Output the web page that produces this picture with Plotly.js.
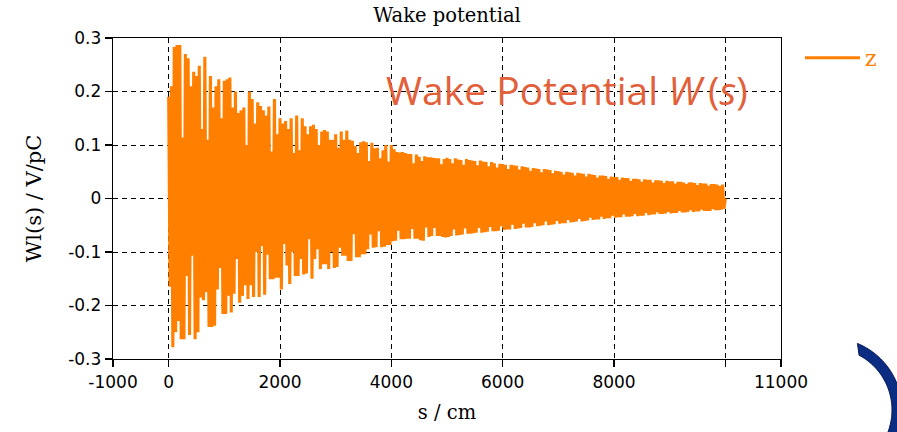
<!DOCTYPE html>
<html><head><meta charset="utf-8">
<script src="https://cdn.plot.ly/plotly-3.0.1.min.js"></script>
<style>html,body{margin:0;padding:0;background:#fff;}#chart{width:897px;height:432px;}</style>
</head><body><div id="chart"></div>
<script>
// ---- data ----
const seriesName = 'z';
const sStep = 50;      // cm between successive positive peaks (troughs lie half-way)
const sEnd = 10000;    // cm, end of the computed wake
// positive peaks of W(s) [V/pC], s = 0 .. 9950 cm
const upperA = [0.19,0.21,0.283,0.287,0.287,0.114,0.27,0.262,0.21,0.237,
  0.229,0.248,0.13,0.265,0.11,0.229,0.17,0.21,0.223,0.15,
  0.22,0.223,0.226,0.17,0.2,0.16,0.165,0.17,0.1,0.2,
  0.186,0.14,0.18,0.173,0.165,0.155,0.172,0.088,0.186,0.12,
  0.15,0.14,0.145,0.13,0.15,0.085,0.155,0.09,0.15,0.135];
const upperB = [0.12,0.135,0.138,0.13,0.1,0.125,0.128,0.125,0.11,0.11,
  0.12,0.095,0.125,0.11,0.127,0.11,0.108,0.098,0.085,0.105,
  0.107,0.105,0.07,0.104,0.094,0.095,0.075,0.09,0.1,0.069,
  0.1,0.092,0.087,0.086,0.087,0.085,0.083,0.083,0.066,0.082,
  0.078,0.07,0.079,0.077,0.077,0.076,0.075,0.075,0.064,0.074];
const upperC = [0.076,0.074,0.066,0.075,0.073,0.072,0.063,0.074,0.072,0.071,
  0.07,0.062,0.071,0.069,0.068,0.06,0.068,0.066,0.058,0.065,
  0.064,0.063,0.055,0.063,0.062,0.061,0.054,0.06,0.059,0.058,
  0.052,0.057,0.056,0.055,0.049,0.055,0.054,0.053,0.047,0.052,
  0.051,0.05,0.045,0.05,0.049,0.048,0.043,0.048,0.047,0.046];
const upperD = [0.041,0.046,0.045,0.044,0.039,0.043,0.043,0.042,0.037,0.041,
  0.04,0.04,0.035,0.039,0.038,0.038,0.033,0.037,0.037,0.036,
  0.031,0.036,0.035,0.035,0.03,0.034,0.034,0.033,0.029,0.033,
  0.032,0.032,0.028,0.031,0.031,0.03,0.027,0.03,0.03,0.029,
  0.025,0.029,0.028,0.028,0.024,0.027,0.027,0.026,0.023,0.026];
// negative peaks of W(s) [V/pC], s = 25 .. 9975 cm
const lowerA = [-0.165,-0.278,-0.25,-0.229,-0.263,-0.263,-0.145,-0.255,-0.107,-0.263,
  -0.25,-0.185,-0.19,-0.175,-0.24,-0.24,-0.238,-0.17,-0.13,-0.216,
  -0.216,-0.182,-0.213,-0.178,-0.113,-0.195,-0.182,-0.162,-0.188,-0.162,
  -0.184,-0.1,-0.184,-0.089,-0.18,-0.105,-0.151,-0.151,-0.148,-0.148,
  -0.17,-0.085,-0.125,-0.16,-0.1,-0.145,-0.145,-0.113,-0.142,-0.14];
const lowerB = [-0.076,-0.15,-0.113,-0.095,-0.132,-0.123,-0.123,-0.132,-0.1,-0.13,
  -0.128,-0.092,-0.107,-0.107,-0.117,-0.117,-0.067,-0.11,-0.11,-0.104,
  -0.104,-0.095,-0.067,-0.092,-0.091,-0.061,-0.091,-0.09,-0.087,-0.087,
  -0.08,-0.079,-0.06,-0.076,-0.076,-0.075,-0.075,-0.057,-0.075,-0.075,
  -0.078,-0.079,-0.054,-0.072,-0.07,-0.055,-0.07,-0.07,-0.072,-0.073];
const lowerC = [-0.072,-0.07,-0.058,-0.069,-0.068,-0.067,-0.056,-0.066,-0.066,-0.065,
  -0.064,-0.055,-0.064,-0.063,-0.062,-0.053,-0.061,-0.061,-0.06,-0.052,
  -0.059,-0.058,-0.058,-0.049,-0.057,-0.056,-0.055,-0.047,-0.054,-0.054,
  -0.053,-0.046,-0.052,-0.051,-0.05,-0.043,-0.05,-0.049,-0.048,-0.042,
  -0.047,-0.046,-0.046,-0.04,-0.045,-0.044,-0.043,-0.038,-0.043,-0.042];
const lowerD = [-0.041,-0.036,-0.04,-0.039,-0.039,-0.034,-0.038,-0.037,-0.037,-0.032,
  -0.036,-0.035,-0.035,-0.03,-0.034,-0.034,-0.033,-0.029,-0.033,-0.032,
  -0.032,-0.027,-0.031,-0.03,-0.03,-0.026,-0.029,-0.029,-0.028,-0.025,
  -0.028,-0.027,-0.027,-0.023,-0.026,-0.026,-0.025,-0.022,-0.025,-0.024,
  -0.024,-0.021,-0.023,-0.023,-0.023,-0.02,-0.022,-0.022,-0.021,-0.019];
const xTickVals = [-1000,0,2000,4000,6000,8000,10000,11000];
const xTickText = ['-1000','0','2000','4000','6000','8000','','11000'];
const yTickVals = [-0.3,-0.2,-0.1,0,0.1,0.2,0.3];
const yTickText = ['-0.3','-0.2','-0.1','0','0.1','0.2','0.3'];

// ---- build the oscillating trace ----
const upper = upperA.concat(upperB, upperC, upperD);
const lower = lowerA.concat(lowerB, lowerC, lowerD);
const sVals = [], wVals = [];
for (let i = 0; i < upper.length; i++) {
  sVals.push(i * sStep); wVals.push(upper[i]);
  sVals.push(i * sStep + sStep / 2); wVals.push(lower[i]);
}
sVals.push(sEnd); wVals.push(0);

const ORANGE = '#ff8000';
const trace = {
  x: sVals, y: wVals, type: 'scatter', mode: 'lines', name: seriesName,
  line: {color: ORANGE, width: 3.1}, hoverinfo: 'skip'
};

// ---- layout geometry (pixels) ----
const W = 897, H = 432, ML = 113, MR = 116, MT = 38, MB = 73;
const PW = W - ML - MR, PH = H - MT - MB;
function toPaper(px, py) { return [(px - ML) / PW, (MT + PH - py) / PH]; }
// decorative navy arc in the lower right corner
function arcPath() {
  const cx = 830, cy = 410, Ro = 72, Ri = 62;
  const pts = [];
  for (let a = -67.6; a <= 40; a += 2) {
    const r = a * Math.PI / 180; pts.push(toPaper(cx + Ro * Math.cos(r), cy + Ro * Math.sin(r)));
  }
  for (let a = 40; a >= -62; a -= 2) {
    const r = a * Math.PI / 180; pts.push(toPaper(cx + Ri * Math.cos(r), cy + Ri * Math.sin(r)));
  }
  return 'M' + pts.map(p => p[0].toFixed(5) + ',' + p[1].toFixed(5)).join('L') + 'Z';
}

const serif = 'DejaVu Serif, serif';
const axisCommon = {
  showline: true, mirror: true, linecolor: '#000', linewidth: 1.3,
  ticks: 'outside', ticklen: 7, tickwidth: 1.3, tickcolor: '#000',
  showgrid: true, gridcolor: '#000', gridwidth: 1, griddash: '5px,4px',
  zeroline: false, tickmode: 'array',
  tickfont: {family: 'DejaVu Sans, sans-serif', size: 17, color: '#000'}
};

const layout = {
  width: W, height: H,
  margin: {l: ML, r: MR, t: MT, b: MB, pad: 0},
  paper_bgcolor: '#fff', plot_bgcolor: '#fff',
  title: {text: 'Wake potential', font: {family: serif, size: 19.5, color: '#000'},
          x: 0.5, xref: 'paper', y: 1 - 15 / H, yref: 'container', yanchor: 'middle'},
  xaxis: Object.assign({}, axisCommon, {
    range: [-1000, 11000], tickvals: xTickVals, ticktext: xTickText,
    title: {text: 's / cm', font: {family: serif, size: 19.5, color: '#000'}, standoff: 14}
  }),
  yaxis: Object.assign({}, axisCommon, {
    range: [-0.3, 0.3], tickvals: yTickVals, ticktext: yTickText,
    title: {text: 'Wl(s) / V/pC', font: {family: serif, size: 21, color: '#000'}, standoff: 20}
  }),
  showlegend: true,
  legend: {x: toPaper(800, 0)[0], xanchor: 'left', y: toPaper(0, 58)[1], yanchor: 'middle',
           bgcolor: 'rgba(0,0,0,0)', font: {family: serif, size: 22, color: ORANGE},
           itemwidth: 55},
  annotations: [{
    text: 'Wake Potential <i>W</i>\u2009(<i>s</i>)', xref: 'paper', yref: 'paper',
    x: toPaper(567, 0)[0], y: toPaper(0, 89)[1], xanchor: 'center', yanchor: 'middle',
    showarrow: false, font: {family: 'Open Sans, sans-serif', size: 39, color: '#e2603a'}
  }],
  shapes: [{
    type: 'path', xref: 'paper', yref: 'paper', path: arcPath(),
    fillcolor: '#0b2c83', line: {color: '#061a52', width: 1}, layer: 'above'
  }]
};

Plotly.newPlot('chart', [trace], layout, {displayModeBar: false, staticPlot: true});
</script></body></html>
